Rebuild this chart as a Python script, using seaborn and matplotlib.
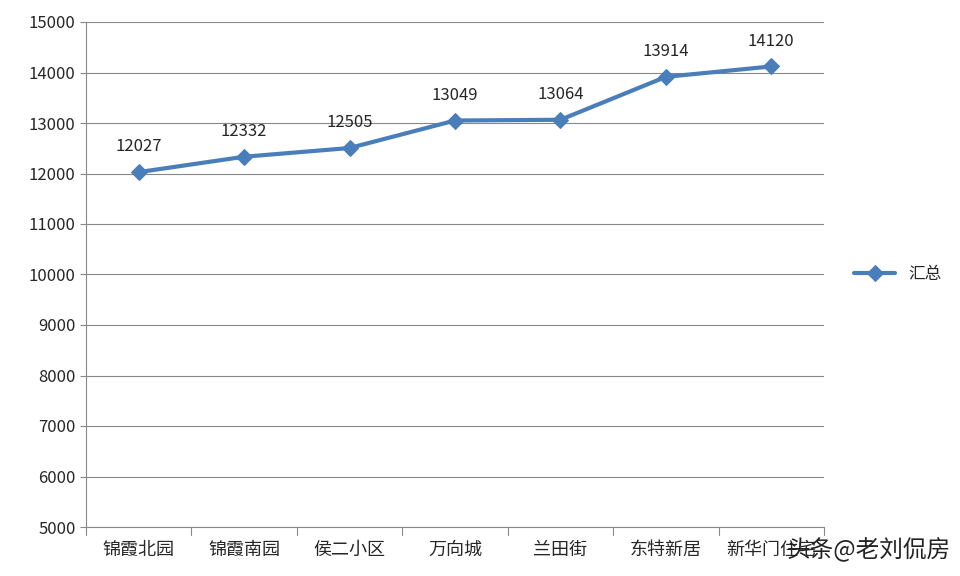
import matplotlib
matplotlib.use("Agg")
import matplotlib.pyplot as plt
import seaborn as sns
import pandas as pd

categories = ["锦霞北园", "锦霞南园", "侯二小区", "万向城", "兰田街", "东特新居", "新华门住宅"]
values = [12027, 12332, 12505, 13049, 13064, 13914, 14120]
yticks = list(range(5000, 15001, 1000))

sns.set_style("white")
plt.rcParams['font.family'] = ['Noto Sans CJK SC', 'DejaVu Sans']

df = pd.DataFrame({"x": range(len(categories)), "v": values})
fig = plt.figure(figsize=(9.6, 5.76), dpi=100)
ax = fig.add_axes([86/960, 1-527/576, (824-86)/960, (527-22)/576])
sns.lineplot(data=df, x="x", y="v", ax=ax, color="#4a7ebb", linewidth=3,
             marker="D", markersize=8, markeredgecolor="#4a7ebb", label="汇总")
ax.set_xlim(-0.5, len(categories)-0.5)
ax.set_ylim(5000, 15000)
ax.set_yticks(yticks)
ax.set_yticklabels([str(t) for t in yticks], fontsize=12)
ax.set_xticks(range(len(categories)))
ax.set_xticklabels(categories, fontsize=13)
ax.set_xlabel(""); ax.set_ylabel("")
ax.grid(axis="y", color="#888888", linewidth=0.8)
for s in ["top", "right"]:
    ax.spines[s].set_visible(False)
for s in ["left", "bottom"]:
    ax.spines[s].set_color("#888888")
for b in range(len(categories)+1):
    ax.plot([b-0.5, b-0.5], [5000, 4850], color="#888888", lw=0.8, clip_on=False)
ax.tick_params(axis="x", length=0, pad=10)
ax.tick_params(axis="y", length=4, color="#888888", left=True)
for i, v in enumerate(values):
    ax.annotate(str(v), (i, v), xytext=(0, 12), textcoords="offset points",
                ha="center", va="bottom", fontsize=12)
ax.legend(loc="center left", bbox_to_anchor=(1.02, 0.5), frameon=False, fontsize=12,
          handlelength=2.5)
fig.text(0.99, 0.045, "头条@老刘侃房", ha="right", va="center", fontsize=17, color="#222222")
fig.savefig("out.png")
